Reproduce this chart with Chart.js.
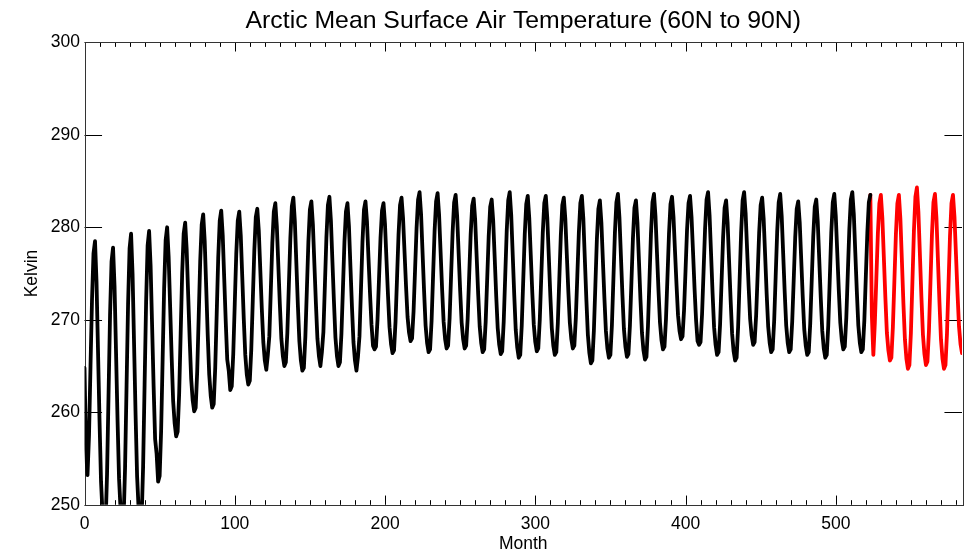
<!DOCTYPE html>
<html>
<head>
<meta charset="utf-8">
<script src="https://cdn.jsdelivr.net/npm/chart.js@4.4.1/dist/chart.umd.min.js"></script>
<style>
  html, body { margin: 0; padding: 0; background: #ffffff; }
  #wrap { width: 973px; height: 556px; }
</style>
</head>
<body>
<div id="wrap"><canvas id="c" width="973" height="556"></canvas></div>
<script>
// ---- Data ----
const chartTitle = 'Arctic Mean Surface Air Temperature (60N to 90N)';
const xAxisTitle = 'Month';
const yAxisTitle = 'Kelvin';

// Monthly mean surface air temperature, black run, months 0..523
const blackKelvin = [
  264.8,256.0,253.2,257.5,265.0,272.2,277.2,278.5,274.1,266.6,259.1,252.5,
  249.1,247.2,247.8,253.3,261.9,270.5,276.3,277.8,273.6,266.4,259.1,252.8,
  249.5,247.7,248.3,254.0,262.9,271.7,277.7,279.3,274.9,267.3,259.7,253.1,
  249.6,247.7,248.3,254.1,263.0,271.9,278.0,279.6,275.8,269.3,262.8,257.1,
  255.5,252.5,253.1,258.0,265.7,273.4,278.6,280.0,276.8,271.4,266.0,261.2,
  258.8,257.4,257.9,262.0,268.5,275.0,279.3,280.5,277.6,272.7,267.9,263.6,
  261.3,260.1,260.5,264.4,270.3,276.3,280.3,281.4,278.5,273.5,268.4,264.1,
  261.8,260.5,260.9,264.8,270.7,276.7,280.7,281.8,279.1,274.4,269.8,265.7,
  264.5,262.4,262.8,266.3,271.7,277.1,280.7,281.7,279.1,274.6,270.1,266.2,
  264.1,263.0,263.4,266.8,272.1,277.4,281.1,282.0,279.6,275.4,271.2,267.6,
  265.6,264.6,266.2,268.2,273.2,278.3,281.7,282.6,280.1,275.9,271.7,268.0,
  266.1,265.0,265.4,268.6,273.7,278.8,282.3,283.2,280.6,276.1,271.6,267.7,
  265.6,264.5,264.8,268.2,273.3,278.4,281.9,282.8,280.3,276.0,271.8,268.0,
  266.1,265.0,266.5,268.7,273.8,278.9,282.4,283.3,280.7,276.3,272.0,268.1,
  266.1,265.0,265.4,268.5,273.4,278.4,281.7,282.6,280.1,275.7,271.4,267.6,
  265.6,264.5,266.0,268.2,273.3,278.4,281.9,282.8,280.6,276.7,272.9,269.5,
  267.2,266.8,267.1,270.0,274.4,278.8,281.8,282.6,280.3,276.4,272.6,269.2,
  267.4,266.4,266.7,269.8,274.5,279.2,282.4,283.2,281.0,277.3,273.6,270.3,
  268.6,267.7,268.0,270.9,275.4,279.9,283.0,283.8,281.4,277.2,273.1,269.4,
  267.5,266.5,266.8,269.9,274.8,279.6,282.8,283.7,281.3,277.3,273.3,269.8,
  267.9,266.9,267.2,270.2,274.9,279.5,282.7,283.5,281.2,277.2,273.2,269.7,
  267.9,266.9,267.2,270.1,274.7,279.2,282.3,283.1,280.8,276.8,272.8,269.3,
  267.5,266.5,266.8,269.8,274.4,279.0,282.2,283.0,280.7,276.7,272.6,269.1,
  267.3,266.3,266.6,269.8,274.7,279.6,282.9,283.8,281.3,277.0,272.7,268.9,
  267.0,265.9,266.2,269.4,274.3,279.2,282.5,283.4,281.0,277.0,273.0,269.5,
  267.6,266.6,266.9,270.0,274.7,279.4,282.6,283.4,281.0,276.9,272.7,269.1,
  267.2,266.2,266.5,269.6,274.4,279.1,282.4,283.2,280.9,277.0,273.1,269.7,
  267.9,266.9,267.2,270.2,274.8,279.4,282.6,283.4,280.9,276.5,272.2,268.4,
  266.4,265.3,265.6,268.8,273.7,278.7,282.0,282.9,280.5,276.4,272.4,268.8,
  266.9,265.9,266.2,269.4,274.4,279.4,282.7,283.6,281.1,276.9,272.7,269.0,
  267.1,266.0,266.3,269.4,274.1,278.8,282.1,282.9,280.5,276.4,272.2,268.6,
  266.7,265.7,266.0,269.3,274.3,279.3,282.7,283.6,281.2,277.2,273.2,269.7,
  267.8,266.8,267.1,270.1,274.7,279.3,282.5,283.3,281.1,277.4,273.8,270.5,
  268.8,267.9,268.2,271.0,275.3,279.7,282.6,283.4,281.1,277.3,273.4,270.0,
  267.7,267.3,267.6,270.6,275.2,279.8,283.0,283.8,281.3,277.1,272.9,269.2,
  267.3,266.2,266.5,269.5,274.2,278.9,282.1,282.9,280.5,276.3,272.2,268.5,
  266.6,265.6,265.9,269.2,274.3,279.4,282.9,283.8,281.5,277.5,273.6,270.1,
  268.3,267.3,267.6,270.5,274.9,279.4,282.4,283.2,280.9,276.9,272.8,269.3,
  267.5,266.5,266.8,269.9,274.7,279.5,282.7,283.6,281.2,277.1,273.0,269.4,
  267.5,266.5,266.8,269.8,274.3,278.9,282.0,282.8,280.5,276.5,272.5,269.0,
  267.2,266.2,266.5,269.6,274.3,279.0,282.2,283.0,280.6,276.5,272.4,268.8,
  266.9,265.9,266.2,269.4,274.4,279.4,282.7,283.6,281.2,277.2,273.2,269.7,
  267.8,266.8,267.1,270.2,275.0,279.7,283.0,283.8,281.4,277.2,273.1,269.4,
  267.5,266.5,266.8,269.9,274.7,279.4,282.7,283.5
];

// Red run, starting at month 523 and running to month 584
const redStartMonth = 523;
const redKelvin = [
  283.5,270.5,266.2,269.7,274.5,279.3,282.6,283.5,281.0,276.7,272.4,268.6,
  266.7,265.6,265.9,269.2,274.2,279.2,282.6,283.5,280.9,276.4,271.8,267.9,
  265.8,264.7,265.1,268.6,274.1,279.6,283.3,284.3,281.6,277.0,272.4,268.4,
  266.3,265.1,265.5,268.8,274.0,279.2,282.7,283.6,281.0,276.4,271.9,267.9,
  265.8,264.7,265.1,268.5,273.7,279.0,282.6,283.5,281.1,277.0,272.9,269.3,
  267.4,266.4
];

// Axis ranges and tick labels
const xMin = 0, xMax = 584;
const xTickValues = [0, 100, 200, 300, 400, 500];
const xMinorStep = 10;
const yMin = 250, yMax = 300;
const yTickValues = [250, 260, 270, 280, 290, 300];

// ---- Chart ----
const FONT = 'Liberation Sans, Arial, Helvetica, sans-serif';

const blackPoints = blackKelvin.map((v, i) => ({ x: i, y: v }));
const redPoints = redKelvin.map((v, i) => ({ x: redStartMonth + i, y: v }));

const idlAxesPlugin = {
  id: 'idlAxes',
  afterLayout(chart) {
    const t = chart.titleBlock;
    const a = chart.chartArea;
    if (t && a) { t.left = a.left; t.right = a.right; t.width = a.right - a.left; }
  },
  beforeDatasetsDraw(chart) {
    const { ctx, chartArea: a, scales: { x, y } } = chart;
    const w = a.right - a.left, h = a.bottom - a.top;
    const xMajLen = 0.02 * h, xMinLen = 0.01 * h;
    const yMajLen = 0.02 * w;
    ctx.save();
    ctx.strokeStyle = '#000';
    ctx.lineWidth = 1;
    ctx.beginPath();
    for (let v = xMin; v <= xMax; v += xMinorStep) {
      const px = Math.round(x.getPixelForValue(v)) + 0.5;
      const len = xTickValues.includes(v) ? xMajLen : xMinLen;
      ctx.moveTo(px, a.bottom); ctx.lineTo(px, a.bottom - len);
      ctx.moveTo(px, a.top); ctx.lineTo(px, a.top + len);
    }
    yTickValues.forEach(v => {
      const py = Math.round(y.getPixelForValue(v)) + 0.5;
      ctx.moveTo(a.left, py); ctx.lineTo(a.left + yMajLen, py);
      ctx.moveTo(a.right, py); ctx.lineTo(a.right - yMajLen, py);
    });
    ctx.stroke();
    ctx.strokeStyle = '#333';
    ctx.strokeRect(Math.round(a.left) + 0.5, Math.round(a.top) + 0.5,
                   Math.round(w), Math.round(h));
    ctx.restore();
  }
};

const tickFont = { family: FONT, size: 17.5 };

new Chart(document.getElementById('c'), {
  type: 'line',
  data: {
    datasets: [
      { data: blackPoints, borderColor: '#000000', borderWidth: 3.8, pointRadius: 0,
        tension: 0, clip: 0, borderJoinStyle: 'round', borderCapStyle: 'round', fill: false },
      { data: redPoints, borderColor: '#ff0000', borderWidth: 3.8, pointRadius: 0,
        tension: 0, clip: 0, borderJoinStyle: 'round', borderCapStyle: 'round', fill: false }
    ]
  },
  options: {
    responsive: false,
    animation: false,
    events: [],
    layout: { padding: { left: 0, right: 11, top: 0, bottom: 0 } },
    plugins: {
      legend: { display: false },
      tooltip: { enabled: false },
      title: {
        display: true, text: chartTitle, color: '#000',
        font: { family: FONT, size: 24.8, weight: 'normal' },
        padding: { top: 6.5, bottom: 6 }
      }
    },
    scales: {
      x: {
        type: 'linear', min: xMin, max: xMax,
        afterBuildTicks: s => { s.ticks = xTickValues.map(v => ({ value: v })); },
        afterFit: s => { s.height = 51.2; },
        ticks: { autoSkip: false, maxRotation: 0, minRotation: 0, padding: 9,
                 color: '#000', font: tickFont, callback: v => String(v) },
        grid: { display: false, drawTicks: false },
        border: { display: false },
        title: { display: true, text: xAxisTitle, color: '#000', font: tickFont,
                 padding: { top: 0, bottom: 1 } }
      },
      y: {
        type: 'linear', min: yMin, max: yMax,
        afterBuildTicks: s => { s.ticks = yTickValues.map(v => ({ value: v })); },
        afterFit: s => { s.width = 84.5; },
        ticks: { padding: 4.5, color: '#000', font: tickFont, callback: v => String(v) },
        grid: { display: false, drawTicks: false },
        border: { display: false },
        title: { display: true, text: yAxisTitle, color: '#000', font: tickFont,
                 padding: { top: 21.5, bottom: 0 } }
      }
    }
  },
  plugins: [idlAxesPlugin]
});
</script>
</body>
</html>
